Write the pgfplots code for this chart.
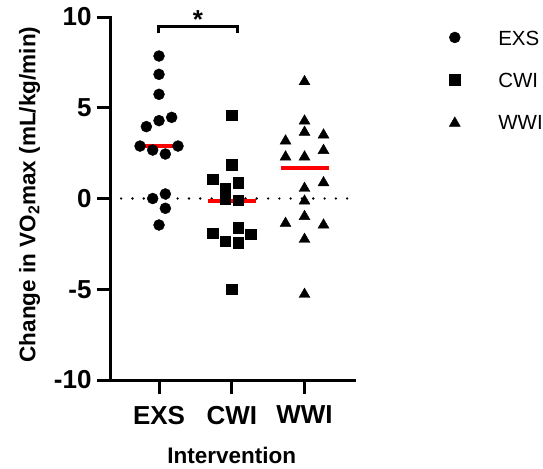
\documentclass[border=0pt]{standalone}
\usepackage{pgfplots}
\pgfplotsset{compat=1.18}
\usepackage{fontspec}
\setmainfont{Liberation Sans}
\pgfplotsset{ptleg/.style={legend image code/.code={\draw[##1] plot coordinates {(0bp,#1)};}}}

\begin{document}
\begin{tikzpicture}
\begin{axis}[
  scale only axis, width=243bp, height=363bp,
  xmin=-0.66, xmax=2.68, ymin=-10, ymax=10,
  axis x line*=bottom, axis y line*=left,
  axis line style={-, line width=3bp, line cap=rect},
  xtick={0,1,2}, xticklabels={EXS,CWI,WWI},
  ytick={-10,-5,0,5,10},
  tick align=outside, major tick length=14bp,
  major tick style={line width=3bp, black},
  /pgf/number format/assume math mode=true,
  ticklabel style={font=\fontsize{26bp}{30bp}\selectfont\bfseries},
  xticklabel style={yshift=-8.5bp},
  yticklabel style={xshift=-2bp},
  xlabel={Intervention},
  ylabel={Change in VO\textsubscript{2}max (mL/kg/min)},
  label style={font=\fontsize{22.5bp}{26bp}\selectfont\bfseries},
  xlabel style={at={(axis description cs:0.497,-0.229)}, anchor=base, inner sep=0pt},
  ylabel style={at={(axis description cs:-0.311,0.511)}, anchor=base, inner sep=0pt},
  clip=false,
  legend cell align=left,
  legend style={draw=none, fill=none, at={(axis description cs:1,1)}, anchor=north west,
    xshift=95.3bp, yshift=-13.85bp, inner sep=0pt, outer sep=0pt,
    font=\fontsize{20.5bp}{24bp}\selectfont, row sep=26.3bp, nodes={inner sep=0pt},
    /tikz/every odd column/.append style={column sep=38bp}},
]
% zero reference line
\addplot[forget plot, black, line width=2.6bp, line cap=round, dash pattern=on 0bp off 11.3bp]
  coordinates {(-0.52,0)(2.68,0)};

\addplot[only marks, mark=*, mark size=5.5bp, black, ptleg=1.3bp]
  coordinates {(0,7.85)(0,6.84)(0,5.74)(-0.174,3.96)(0,4.29)(0.174,4.47)(-0.261,2.89)
  (-0.087,2.67)(0.087,2.45)(0.261,2.89)(-0.087,0.0)(0.087,0.25)(0.087,-0.54)(0,-1.46)};
\addlegendentry{EXS}
\addplot[only marks, mark=square*, mark size=5.2bp, black, ptleg=1.3bp]
  coordinates {(1,4.58)(1,1.86)(0.739,1.07)(1.087,0.87)(0.913,0.55)(0.913,0.0)(1.087,-0.1)
  (0.739,-1.92)(1.087,-1.61)(1.261,-1.96)(0.913,-2.34)(1.087,-2.43)(1,-5.0)};
\addlegendentry{CWI}
\addplot[only marks, mark=triangle*, mark size=6.3bp, black, ptleg=-0.3bp]
  coordinates {(2,6.44)(2,4.27)(2,3.65)(1.739,3.17)(2.261,3.50)(1.739,2.29)(2,2.29)(2.261,2.65)
  (2,0.56)(2.261,0.87)(2,-0.14)(2,-0.99)(1.739,-1.37)(2.261,-1.46)(2,-2.25)(2,-5.28)};
\addlegendentry{WWI}

% medians
\addplot[forget plot, red, line width=4bp] coordinates {(-0.33,2.89)(0.33,2.89)};
\addplot[forget plot, red, line width=4bp] coordinates {(0.67,-0.12)(1.33,-0.12)};
\addplot[forget plot, red, line width=4bp] coordinates {(1.67,1.66)(2.33,1.66)};

% significance bracket
\addplot[forget plot, black, line width=3bp] coordinates {(-0.008,9.1)(-0.008,9.5)(1.08,9.5)(1.08,9.1)};
\node[font=\fontsize{26bp}{30bp}\selectfont\bfseries, anchor=base] at (axis cs:0.536,9.35) {*};
\end{axis}
\pgfresetboundingbox
\path[use as bounding box] (-111bp,-89bp) rectangle (432bp,380bp);
\end{tikzpicture}
\end{document}
